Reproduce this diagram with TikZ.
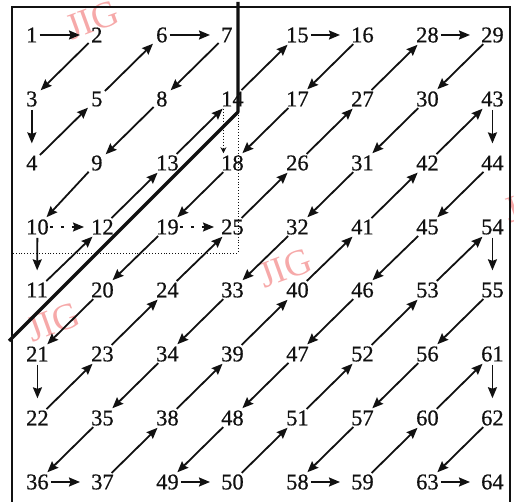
\documentclass[tikz,border=0pt]{standalone}
\usepackage{fontspec}
\setmainfont{Liberation Serif}
\newfontfamily\scanfont{Liberation Serif}[FakeBold=0.6]
\usetikzlibrary{arrows.meta}
\definecolor{scanink}{HTML}{111111}
\definecolor{stamppink}{HTML}{F6A9A9}
\tikzset{
  num/.style={anchor=west,inner xsep=3pt,inner ysep=2pt,text=scanink,font=\scanfont\fontsize{22.5}{24}\selectfont},
  move/.style={-{Stealth[length=11pt,width=9pt,inset=1.5pt]},line width=1.8pt,scanink,shorten <=-1pt,shorten >=0pt},
  across/.style={move,shorten <=-1pt,shorten >=8pt},
  down/.style={move,shorten <=1pt,shorten >=10pt},
  skip/.style={move,line width=1.4pt,dash pattern=on 3pt off 8pt,shorten <=-2pt,shorten >=4pt},
  hint/.style={-{Stealth[length=6pt,width=6pt]},line width=1pt,dotted,scanink},
  frame/.style={line width=1.3pt,scanink},
  cut/.style={line width=3.2pt,scanink,line join=round},
  guide/.style={line width=.9pt,dotted,scanink},
  stamp/.style={text=stamppink,font=\fontsize{37}{37}\selectfont,rotate=20}
}
\begin{document}
\begin{tikzpicture}[x=1pt,y=-1pt]
  \useasboundingbox (0,0) rectangle (514,502);

  % watermarks
  \node[stamp] (wm1) at (92,20) {JIG};
  \node[stamp] (wm2) at (285,268) {JIG};
  \node[stamp] (wm3) at (53,322) {JIG};
  \node[stamp] (wm4) at (530,203) {JIG};

  \draw[frame] (12,502) -- (12,7) -- (510,7) -- (510,502);

  % row 1
  \node[num] (n1) at (23,35) {1};
  \node[num] (n2) at (88,35) {2};
  \node[num] (n6) at (153,35) {6};
  \node[num] (n7) at (218,35) {7};
  \node[num] (n15) at (283,35) {15};
  \node[num] (n16) at (348,35) {16};
  \node[num] (n28) at (413,35) {28};
  \node[num] (n29) at (478,35) {29};
  % row 2
  \node[num] (n3) at (23,99) {3};
  \node[num] (n5) at (88,99) {5};
  \node[num] (n8) at (153,99) {8};
  \node[num] (n14) at (218,99) {14};
  \node[num] (n17) at (283,99) {17};
  \node[num] (n27) at (348,99) {27};
  \node[num] (n30) at (413,99) {30};
  \node[num] (n43) at (478,99) {43};
  % row 3
  \node[num] (n4) at (23,163) {4};
  \node[num] (n9) at (88,163) {9};
  \node[num] (n13) at (153,163) {13};
  \node[num] (n18) at (218,163) {18};
  \node[num] (n26) at (283,163) {26};
  \node[num] (n31) at (348,163) {31};
  \node[num] (n42) at (413,163) {42};
  \node[num] (n44) at (478,163) {44};
  % row 4
  \node[num] (n10) at (23,227) {10};
  \node[num] (n12) at (88,227) {12};
  \node[num] (n19) at (153,227) {19};
  \node[num] (n25) at (218,227) {25};
  \node[num] (n32) at (283,227) {32};
  \node[num] (n41) at (348,227) {41};
  \node[num] (n45) at (413,227) {45};
  \node[num] (n54) at (478,227) {54};
  % row 5
  \node[num] (n11) at (23,290) {11};
  \node[num] (n20) at (88,290) {20};
  \node[num] (n24) at (153,290) {24};
  \node[num] (n33) at (218,290) {33};
  \node[num] (n40) at (283,290) {40};
  \node[num] (n46) at (348,290) {46};
  \node[num] (n53) at (413,290) {53};
  \node[num] (n55) at (478,290) {55};
  % row 6
  \node[num] (n21) at (23,354) {21};
  \node[num] (n23) at (88,354) {23};
  \node[num] (n34) at (153,354) {34};
  \node[num] (n39) at (218,354) {39};
  \node[num] (n47) at (283,354) {47};
  \node[num] (n52) at (348,354) {52};
  \node[num] (n56) at (413,354) {56};
  \node[num] (n61) at (478,354) {61};
  % row 7
  \node[num] (n22) at (23,418) {22};
  \node[num] (n35) at (88,418) {35};
  \node[num] (n38) at (153,418) {38};
  \node[num] (n48) at (218,418) {48};
  \node[num] (n51) at (283,418) {51};
  \node[num] (n57) at (348,418) {57};
  \node[num] (n60) at (413,418) {60};
  \node[num] (n62) at (478,418) {62};
  % row 8
  \node[num] (n36) at (23,482) {36};
  \node[num] (n37) at (88,482) {37};
  \node[num] (n49) at (153,482) {49};
  \node[num] (n50) at (218,482) {50};
  \node[num] (n58) at (283,482) {58};
  \node[num] (n59) at (348,482) {59};
  \node[num] (n63) at (413,482) {63};
  \node[num] (n64) at (478,482) {64};

  % split lines
  \coordinate (bend) at (238,112);
  \draw[guide] (bend) -- (238,253) -- (12,253);
  \draw[cut] (238,2) -- (bend) -- (9,341);

  % scan order
  \draw[across] (n1) -- (n2);
  \draw[move] (n2) -- (n3);
  \draw[down] (n3) -- (n4);
  \draw[move] (n4) -- (n5);
  \draw[move] (n5) -- (n6);
  \draw[across] (n6) -- (n7);
  \draw[move] (n7) -- (n8);
  \draw[move] (n8) -- (n9);
  \draw[move] (n9) -- (n10);
  \draw[down] (n10) -- (n11);
  \draw[skip] (n10) -- (n12);
  \draw[move] (n11) -- (n12);
  \draw[move] (n12) -- (n13);
  \draw[move] (n13) -- (n14);
  \draw[move] (n14) -- (n15);
  \draw[hint] ([xshift=-9pt]n14.south) -- ([xshift=-9pt]n18.north);
  \draw[across] (n15) -- (n16);
  \draw[move] (n16) -- (n17);
  \draw[move] (n17) -- (n18);
  \draw[move] (n18) -- (n19);
  \draw[skip] (n19) -- (n25);
  \draw[move] (n19) -- (n20);
  \draw[move] (n20) -- (n21);
  \draw[down] (n21) -- (n22);
  \draw[move] (n22) -- (n23);
  \draw[move] (n23) -- (n24);
  \draw[move] (n24) -- (n25);
  \draw[move] (n25) -- (n26);
  \draw[move] (n26) -- (n27);
  \draw[move] (n27) -- (n28);
  \draw[across] (n28) -- (n29);
  \draw[move] (n29) -- (n30);
  \draw[move] (n30) -- (n31);
  \draw[move] (n31) -- (n32);
  \draw[move] (n32) -- (n33);
  \draw[move] (n33) -- (n34);
  \draw[move] (n34) -- (n35);
  \draw[move] (n35) -- (n36);
  \draw[across] (n36) -- (n37);
  \draw[move] (n37) -- (n38);
  \draw[move] (n38) -- (n39);
  \draw[move] (n39) -- (n40);
  \draw[move] (n40) -- (n41);
  \draw[move] (n41) -- (n42);
  \draw[move] (n42) -- (n43);
  \draw[down] (n43) -- (n44);
  \draw[move] (n44) -- (n45);
  \draw[move] (n45) -- (n46);
  \draw[move] (n46) -- (n47);
  \draw[move] (n47) -- (n48);
  \draw[move] (n48) -- (n49);
  \draw[across] (n49) -- (n50);
  \draw[move] (n50) -- (n51);
  \draw[move] (n51) -- (n52);
  \draw[move] (n52) -- (n53);
  \draw[move] (n53) -- (n54);
  \draw[down] (n54) -- (n55);
  \draw[move] (n55) -- (n56);
  \draw[move] (n56) -- (n57);
  \draw[move] (n57) -- (n58);
  \draw[across] (n58) -- (n59);
  \draw[move] (n59) -- (n60);
  \draw[move] (n60) -- (n61);
  \draw[down] (n61) -- (n62);
  \draw[move] (n62) -- (n63);
  \draw[across] (n63) -- (n64);
\end{tikzpicture}
\end{document}
